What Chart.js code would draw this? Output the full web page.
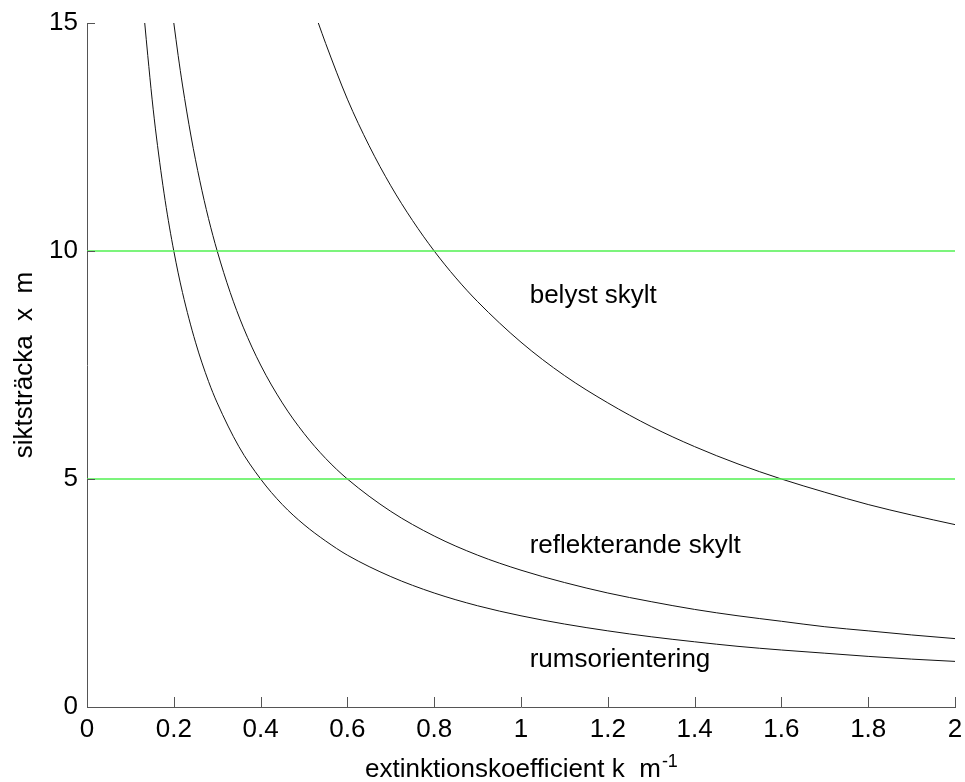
<!DOCTYPE html>
<html>
<head>
<meta charset="utf-8">
<script src="https://cdn.jsdelivr.net/npm/chart.js@4"></script>
<style>
  html, body { margin: 0; padding: 0; background: #fff; }
  #wrap { width: 965px; height: 782px; }
</style>
</head>
<body>
<div id="wrap"><canvas id="c" width="965" height="782"></canvas></div>
<script>
// ---- data ----
const kRums   = [0.133,0.14,0.15,0.16,0.18,0.2,0.22,0.25,0.28,0.3,0.35,0.4,0.45,0.5,0.55,0.6,0.7,0.8,0.9,1.0,1.1,1.2,1.3,1.4,1.5,1.6,1.7,1.8,1.9,2.0];
const xRums   = [15,14.29,13.33,12.5,11.11,10,9.09,8,7.14,6.67,5.71,5,4.44,4,3.64,3.33,2.86,2.5,2.22,2,1.82,1.67,1.54,1.43,1.33,1.25,1.18,1.11,1.05,1];

const kRefl   = [0.2,0.21,0.22,0.24,0.26,0.28,0.3,0.33,0.36,0.4,0.45,0.5,0.55,0.6,0.7,0.8,0.9,1.0,1.1,1.2,1.3,1.4,1.5,1.6,1.7,1.8,1.9,2.0];
const xRefl   = [15,14.29,13.64,12.5,11.54,10.71,10,9.09,8.33,7.5,6.67,6,5.45,5,4.29,3.75,3.33,3,2.73,2.5,2.31,2.14,2,1.88,1.76,1.67,1.58,1.5];

const kBelyst = [0.533,0.55,0.6,0.65,0.7,0.75,0.8,0.85,0.9,1.0,1.1,1.2,1.3,1.4,1.5,1.6,1.7,1.8,1.9,2.0];
const xBelyst = [15,14.55,13.33,12.31,11.43,10.67,10,9.41,8.89,8,7.27,6.67,6.15,5.71,5.33,5,4.71,4.44,4.21,4];

const refLevels = [5, 10];           // green horizontal reference lines
const refRange  = [0, 2];

const xTickLabels = ['0','0.2','0.4','0.6','0.8','1','1.2','1.4','1.6','1.8','2'];
const yTickLabels = ['0','5','10','15'];

const curveLabels = [
  { text: 'belyst skylt',        k: 1.02, x: 8.86 },
  { text: 'reflekterande skylt', k: 1.02, x: 3.38 },
  { text: 'rumsorientering',     k: 1.02, x: 0.88 }
];

const xTitle = 'extinktionskoefficient k  m';
const xTitleSup = '-1';
const yTitle = 'siktsträcka  x  m';

// ---- build ----
const FONT = '"Liberation Sans", Arial, sans-serif';
const FS = 26;
function pts(ks, xs) { return ks.map((k, i) => ({ x: k, y: xs[i] })); }

const curveStyle = { borderColor: '#111', borderWidth: 1, pointRadius: 0, showLine: true, fill: false, cubicInterpolationMode: 'monotone' };
const datasets = [];
refLevels.forEach(v => datasets.push({
  data: refRange.map(k => ({ x: k, y: v })),
  borderColor: 'rgb(80,240,80)', borderWidth: 1.6, pointRadius: 0, showLine: true, fill: false
}));
datasets.push(Object.assign({ label: 'rumsorientering', data: pts(kRums, xRums) }, curveStyle));
datasets.push(Object.assign({ label: 'reflekterande skylt', data: pts(kRefl, xRefl) }, curveStyle));
datasets.push(Object.assign({ label: 'belyst skylt', data: pts(kBelyst, xBelyst) }, curveStyle));

const decor = {
  id: 'decor',
  afterDraw(chart) {
    const ctx = chart.ctx, xs = chart.scales.x, ys = chart.scales.y;
    const a = chart.chartArea;
    ctx.save();
    // inward ticks
    ctx.strokeStyle = '#555';
    ctx.lineWidth = 1;
    ctx.beginPath();
    xs.ticks.forEach(t => {
      const px = Math.round(xs.getPixelForValue(t.value)) + 0.5;
      ctx.moveTo(px, a.bottom); ctx.lineTo(px, a.bottom - 10);
    });
    ys.ticks.forEach(t => {
      const py = Math.round(ys.getPixelForValue(t.value)) + 0.5;
      ctx.moveTo(a.left, py); ctx.lineTo(a.left + 8, py);
    });
    ctx.stroke();
    // curve labels
    ctx.fillStyle = '#000';
    ctx.font = FS + 'px ' + FONT;
    ctx.textAlign = 'left';
    ctx.textBaseline = 'alphabetic';
    curveLabels.forEach(l => ctx.fillText(l.text, xs.getPixelForValue(l.k), ys.getPixelForValue(l.x)));
    // x title with superscript
    ctx.font = FS + 'px ' + FONT;
    const w1 = ctx.measureText(xTitle).width;
    ctx.font = '18px ' + FONT;
    const w2 = ctx.measureText(xTitleSup).width;
    const cx = (a.left + a.right) / 2;
    const sx = cx - (w1 + w2) / 2;
    ctx.font = FS + 'px ' + FONT;
    ctx.fillText(xTitle, sx, 777);
    ctx.font = '18px ' + FONT;
    ctx.fillText(xTitleSup, sx + w1 + 1, 767);
    // y title rotated
    ctx.translate(32, (a.top + a.bottom) / 2);
    ctx.rotate(-Math.PI / 2);
    ctx.font = FS + 'px ' + FONT;
    ctx.textAlign = 'center';
    ctx.fillText(yTitle, 0, 0);
    ctx.restore();
  }
};

new Chart(document.getElementById('c'), {
  type: 'scatter',
  data: { datasets },
  options: {
    responsive: false,
    animation: false,
    events: [],
    layout: { padding: { top: 23, right: 10, left: 0, bottom: 0 } },
    plugins: { legend: { display: false }, tooltip: { enabled: false }, title: { display: false } },
    scales: {
      x: {
        type: 'linear', min: 0, max: 2,
        afterFit(s) { s.height = 75; s.paddingLeft = 0; s.paddingRight = 0; },
        grid: { display: true, drawOnChartArea: false, drawTicks: false },
        border: { display: true, color: '#555', width: 1 },
        ticks: {
          stepSize: 0.2, padding: 7, color: '#000', font: { family: FONT, size: FS },
          maxRotation: 0, autoSkip: false,
          callback: (v, i) => xTickLabels[i]
        }
      },
      y: {
        type: 'linear', min: 0, max: 15,
        afterFit(s) { s.width = 87; s.paddingTop = 0; s.paddingBottom = 0; },
        grid: { display: true, drawOnChartArea: false, drawTicks: false },
        border: { display: true, color: '#555', width: 1 },
        ticks: {
          stepSize: 5, padding: 9, color: '#000', font: { family: FONT, size: FS },
          callback: (v, i) => yTickLabels[i]
        }
      }
    }
  },
  plugins: [decor]
});
</script>
</body>
</html>
